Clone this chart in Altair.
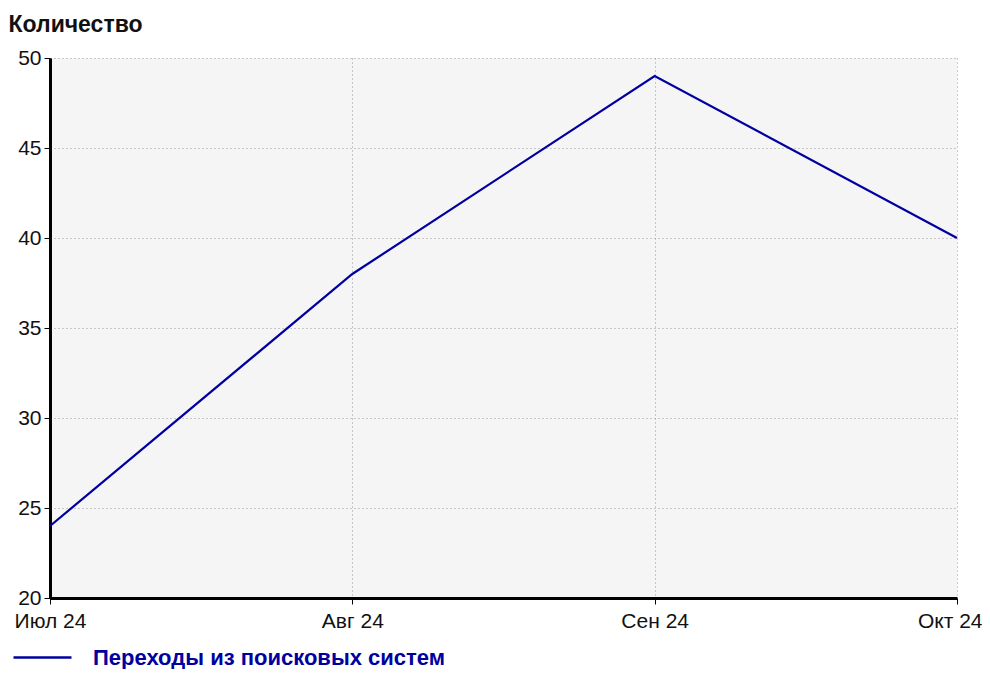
import altair as alt
import pandas as pd

months = ["Июл 24", "Авг 24", "Сен 24", "Окт 24"]
values = [24, 38, 49, 40]
series = "Переходы из поисковых систем"

df = pd.DataFrame({"month": months, "value": values, "series": [series] * len(months)})

font = "Liberation Sans"
last = months[-1]

chart = alt.Chart(df).mark_line(strokeWidth=2.2).encode(
    x=alt.X("month:N", sort=months, scale=alt.Scale(type="point", padding=0),
            axis=alt.Axis(title=None, labelAngle=0, labelFontSize=21, labelColor="#111",
                          labelFont=font, domainColor="black", domainWidth=3,
                          tickColor="black", tickSize=6, labelPadding=6,
                          labelAlign=alt.expr(f"datum.label === '{last}' ? 'right' : 'center'"),
                          labelOffset=alt.expr(f"datum.label === '{last}' ? 25 : 0"),
                          grid=True, gridColor="#999", gridDash=[1, 3], gridWidth=1)),
    y=alt.Y("value:Q", scale=alt.Scale(domain=[20, 50], nice=False, zero=False),
            axis=alt.Axis(values=[20, 25, 30, 35, 40, 45, 50], labelFontSize=21,
                          labelColor="#111", labelFont=font, domainColor="black",
                          domainWidth=3, tickColor="black", tickSize=6, labelPadding=3,
                          grid=True, gridColor="#999", gridDash=[1, 3], gridWidth=1,
                          title="Количество", titleAngle=0, titleAlign="left",
                          titleBaseline="alphabetic", titleX=-42, titleY=-27,
                          titleFontSize=23, titleFont=font, titleFontWeight="bold",
                          titleColor="#111")),
    color=alt.Color("series:N", scale=alt.Scale(range=["#0000a0"]),
                    legend=alt.Legend(title=None, orient="none", legendX=-38, legendY=569,
                                      symbolType="stroke", symbolSize=3364,
                                      symbolStrokeWidth=2.5, labelFontSize=22,
                                      labelFont=font, labelFontWeight="bold",
                                      labelColor="#0000a0", labelOffset=20, labelLimit=600,
                                      padding=0)),
).properties(
    width=907, height=540,
    autosize=alt.AutoSizeParams(type="none"),
    padding={"left": 42, "top": 50, "right": 25, "bottom": 71},
).configure_view(fill="#f5f5f5", stroke=None)

chart.save("out.html", embed_options={"renderer": "svg", "actions": False})
